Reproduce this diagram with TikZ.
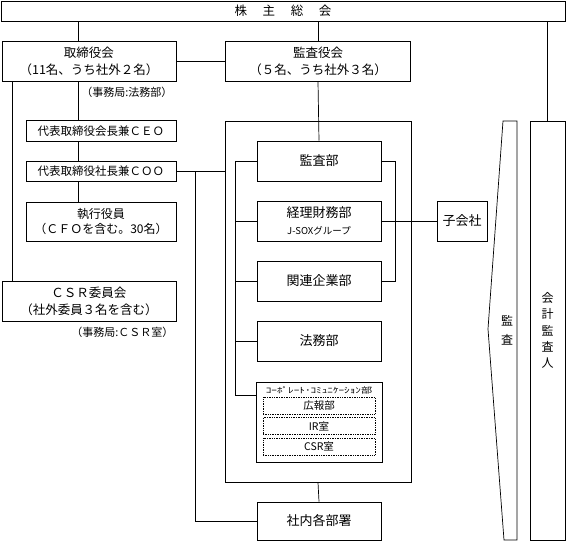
\documentclass[tikz,border=0pt]{standalone}
\usepackage{fontspec}
\setmainfont{Noto Sans CJK JP}
\usetikzlibrary{positioning}

\begin{document}
\begin{tikzpicture}[x=1pt,y=-1pt,line width=0.7pt,
        box/.style={draw, inner sep=0pt, align=center, font=\fontsize{12.5}{17}\selectfont},
        dept/.style={draw, inner sep=0pt, align=center, minimum width=124pt, minimum height=40pt, font=\fontsize{13}{20}\selectfont},
        sub/.style={draw, densely dotted, inner sep=0pt, minimum width=112pt, minimum height=17pt, font=\fontsize{10.5}{12}\selectfont},
        note/.style={inner sep=0pt, font=\fontsize{11}{12}\selectfont}]
        \useasboundingbox (0,0) rectangle (566,542);
        % x positions of the buses
        \coordinate (xa) at (78,0);
        \coordinate (xb) at (12,0);
        \coordinate (xc) at (195,0);
        \coordinate (xd) at (235,0);
        \coordinate (xe) at (395,0);
        \coordinate (xf) at (547,0);
        % boxes
        \node (soukai) [box, minimum width=564pt, minimum height=20pt] at (283,11) {株\hspace{1.25em}主\hspace{1.25em}総\hspace{1.25em}会};
        \node (torishimari) [box, minimum width=174pt, minimum height=40pt] at (89,61) {取締役会\\（11名、うち社外２名）};
        \node (kansayaku) [box, minimum width=185pt, minimum height=40pt] at (318,61) {監査役会\\（５名、うち社外３名）};
        \node (jimu1) [note, below right=5pt and -8pt of torishimari.south] {（事務局:法務部）};
        \node (ceo) [box, minimum width=150pt, minimum height=21pt, font=\fontsize{11.5}{14}\selectfont] at (101,131) {代表取締役会長兼ＣＥＯ};
        \node (coo) [box, minimum width=150pt, minimum height=20pt, font=\fontsize{11.5}{14}\selectfont] at (101,171) {代表取締役社長兼ＣＯＯ};
        \node (shikko) [box, minimum width=150pt, minimum height=39pt, font=\fontsize{12}{15}\selectfont] at (101,221.5) {執行役員\\（ＣＦＯを含む。30名）};
        \node (csr) [box, minimum width=174pt, minimum height=40pt] at (89,301) {ＣＳＲ委員会\\（社外委員３名を含む）};
        \node (jimu2) [note, below right=5pt and -18pt of csr.south] {（事務局:ＣＳＲ室）};
        \node (bigbox) [draw, minimum width=186pt, minimum height=361pt, inner sep=0pt] at (318,301.5) {};
        \node (kansabu) [dept] at (319,161) {監査部};
        \node (keiri) [dept] at (319,221) {経理財務部\\[-3pt]{\fontsize{9.5}{10}\selectfont J-SOXグループ}};
        \node (kanren) [dept] at (319,281) {関連企業部};
        \node (houmu) [dept] at (319,341) {法務部};
        \node (comm) [draw, minimum width=126pt, minimum height=80pt, inner sep=0pt] at (319,422) {};
        \node (commtitle) [inner sep=0pt] at (319,390) {\scalebox{1.4}[1]{\fontsize{8}{8}\selectfont ｺｰﾎﾟﾚｰﾄ･ｺﾐｭﾆｹｰｼｮﾝ部}};
        \node (koho) [sub] at (319,405.5) {広報部};
        \node (ir) [sub] at (319,426) {IR室};
        \node (csrroom) [sub] at (319,446.5) {CSR室};
        \coordinate (cs) at (257,395);
        \node (shanai) [dept, minimum height=38pt] at (319,521) {社内各部署};
        \node (kogaisha) [box, minimum width=50pt, minimum height=40pt, font=\fontsize{13}{15}\selectfont] at (462,221) {子会社};
        \node (kaikei) [box, minimum width=35pt, minimum height=419pt, font=\fontsize{12}{16.25}\selectfont] at (547.5,330.5) {会\\計\\監\\査\\人};
        % audit wedge
        \draw (503,121) -- (517,121) -- (517,540) -- (504,540) -- (488,329) -- cycle;
        \node (kansa) [align=center, inner sep=0pt, font=\fontsize{12}{19}\selectfont] at (507,330) {監\\査};
        % connectors
        \draw (soukai.south -| xa) -- (torishimari.north -| xa);
        \draw (soukai.south -| kansayaku) -- (kansayaku.north);
        \draw (soukai.south -| xf) -- (kaikei.north -| xf);
        \draw (torishimari.east) -- (kansayaku.west);
        \draw (torishimari.south -| xa) -- (ceo.north -| xa);
        \draw (ceo.south -| xa) -- (coo.north -| xa);
        \draw (coo.south -| xa) -- (shikko.north -| xa);
        \draw (torishimari.south -| xb) -- (csr.north -| xb);
        \draw (coo.east) -- (bigbox.west |- coo.east);
        \draw (coo.east -| xc) |- (shanai.west);
        \draw (kansayaku.south) -- (kansabu.north);
        \draw (bigbox.south) -- (shanai.north);
        \foreach \n in {kansabu,keiri,kanren,houmu}
            \draw (\n.west) -- (\n.west -| xd);
        \draw (kansabu.west -| xd) |- (cs);
        \draw (kansabu.east) -| (kanren.east -| xe) -- (kanren.east);
        \draw (keiri.east) -- (kogaisha.west);
\end{tikzpicture}
\end{document}
